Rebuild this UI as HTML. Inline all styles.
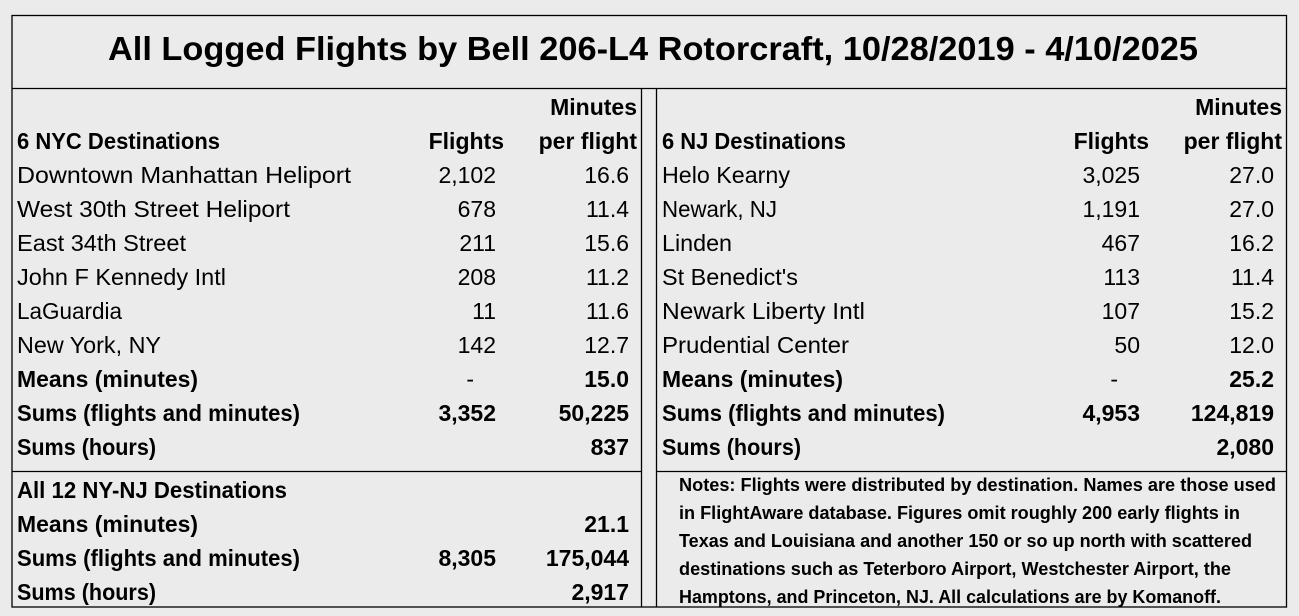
<!DOCTYPE html>
<html><head><meta charset="utf-8"><style>
html,body{margin:0;padding:0;background:#ebebeb;}
svg{display:block;}
text{font-family:"Liberation Sans",sans-serif;fill:#000;}
.b{font-weight:bold;}
</style></head><body>
<svg width="1299" height="616" viewBox="0 0 1299 616" xmlns="http://www.w3.org/2000/svg">
<rect x="0" y="0" width="1299" height="616" fill="#ebebeb"/>
<g stroke="#000" stroke-width="1.3" fill="none">
<rect x="12" y="15.5" width="1274.5" height="591.5"/>
<line x1="12" y1="88.5" x2="1286.5" y2="88.5"/>
<line x1="641.5" y1="88.5" x2="641.5" y2="607"/>
<line x1="656.5" y1="88.5" x2="656.5" y2="607"/>
<line x1="12" y1="471.5" x2="641.5" y2="471.5"/>
<line x1="656.5" y1="471.5" x2="1286.5" y2="471.5"/>
</g>
<text class="b" x="108" y="60" font-size="33" textLength="1090" lengthAdjust="spacingAndGlyphs">All Logged Flights by Bell 206-L4 Rotorcraft, 10/28/2019 - 4/10/2025</text>
<g font-size="23">
<text class="b" x="637" y="115" text-anchor="end">Minutes</text>
<text class="b" x="17" y="149" textLength="203" lengthAdjust="spacingAndGlyphs">6 NYC Destinations</text>
<text class="b" x="504" y="149" text-anchor="end">Flights</text>
<text class="b" x="637" y="149" text-anchor="end">per flight</text>
<text x="17" y="183" textLength="334" lengthAdjust="spacingAndGlyphs">Downtown Manhattan Heliport</text>
<text x="17" y="217" textLength="273" lengthAdjust="spacingAndGlyphs">West 30th Street Heliport</text>
<text x="17" y="251" textLength="169" lengthAdjust="spacingAndGlyphs">East 34th Street</text>
<text x="17" y="285" textLength="209" lengthAdjust="spacingAndGlyphs">John F Kennedy Intl</text>
<text x="17" y="319" textLength="105" lengthAdjust="spacingAndGlyphs">LaGuardia</text>
<text x="17" y="353" textLength="144" lengthAdjust="spacingAndGlyphs">New York, NY</text>
<text class="b" x="17" y="387" textLength="181" lengthAdjust="spacingAndGlyphs">Means (minutes)</text>
<text class="b" x="17" y="421" textLength="283" lengthAdjust="spacingAndGlyphs">Sums (flights and minutes)</text>
<text class="b" x="17" y="455" textLength="139" lengthAdjust="spacingAndGlyphs">Sums (hours)</text>
<g text-anchor="end">
<text x="496" y="183">2,102</text><text x="629" y="183">16.6</text>
<text x="496" y="217">678</text><text x="629" y="217">11.4</text>
<text x="496" y="251">211</text><text x="629" y="251">15.6</text>
<text x="496" y="285">208</text><text x="629" y="285">11.2</text>
<text x="496" y="319">11</text><text x="629" y="319">11.6</text>
<text x="496" y="353">142</text><text x="629" y="353">12.7</text>
<text x="474" y="387">-</text><text class="b" x="629" y="387">15.0</text>
<text class="b" x="496" y="421">3,352</text><text class="b" x="629" y="421">50,225</text>
<text class="b" x="629" y="455">837</text>
</g>
<text class="b" x="17" y="498" textLength="270" lengthAdjust="spacingAndGlyphs">All 12 NY-NJ Destinations</text>
<text class="b" x="17" y="532" textLength="181" lengthAdjust="spacingAndGlyphs">Means (minutes)</text>
<text class="b" x="17" y="566" textLength="283" lengthAdjust="spacingAndGlyphs">Sums (flights and minutes)</text>
<text class="b" x="17" y="600" textLength="139" lengthAdjust="spacingAndGlyphs">Sums (hours)</text>
<g text-anchor="end" class="b">
<text x="629" y="532">21.1</text>
<text x="496" y="566">8,305</text><text x="629" y="566">175,044</text>
<text x="629" y="600">2,917</text>
</g>
<text class="b" x="1282" y="115" text-anchor="end">Minutes</text>
<text class="b" x="662" y="149" textLength="184" lengthAdjust="spacingAndGlyphs">6 NJ Destinations</text>
<text class="b" x="1149" y="149" text-anchor="end">Flights</text>
<text class="b" x="1282" y="149" text-anchor="end">per flight</text>
<text x="662" y="183" textLength="128" lengthAdjust="spacingAndGlyphs">Helo Kearny</text>
<text x="662" y="217" textLength="115" lengthAdjust="spacingAndGlyphs">Newark, NJ</text>
<text x="662" y="251" textLength="70" lengthAdjust="spacingAndGlyphs">Linden</text>
<text x="662" y="285" textLength="136" lengthAdjust="spacingAndGlyphs">St Benedict's</text>
<text x="662" y="319" textLength="203" lengthAdjust="spacingAndGlyphs">Newark Liberty Intl</text>
<text x="662" y="353" textLength="187" lengthAdjust="spacingAndGlyphs">Prudential Center</text>
<text class="b" x="662" y="387" textLength="181" lengthAdjust="spacingAndGlyphs">Means (minutes)</text>
<text class="b" x="662" y="421" textLength="283" lengthAdjust="spacingAndGlyphs">Sums (flights and minutes)</text>
<text class="b" x="662" y="455" textLength="139" lengthAdjust="spacingAndGlyphs">Sums (hours)</text>
<g text-anchor="end">
<text x="1140" y="183">3,025</text><text x="1274" y="183">27.0</text>
<text x="1140" y="217">1,191</text><text x="1274" y="217">27.0</text>
<text x="1140" y="251">467</text><text x="1274" y="251">16.2</text>
<text x="1140" y="285">113</text><text x="1274" y="285">11.4</text>
<text x="1140" y="319">107</text><text x="1274" y="319">15.2</text>
<text x="1140" y="353">50</text><text x="1274" y="353">12.0</text>
<text x="1118" y="387">-</text><text class="b" x="1274" y="387">25.2</text>
<text class="b" x="1140" y="421">4,953</text><text class="b" x="1274" y="421">124,819</text>
<text class="b" x="1274" y="455">2,080</text>
</g>
</g>
<g font-size="18.5" class="b">
<text class="b" x="679" y="491" textLength="597" lengthAdjust="spacingAndGlyphs">Notes: Flights were distributed by destination. Names are those used</text>
<text class="b" x="679" y="519" textLength="561" lengthAdjust="spacingAndGlyphs">in FlightAware database. Figures omit roughly 200 early flights in</text>
<text class="b" x="679" y="547" textLength="573" lengthAdjust="spacingAndGlyphs">Texas and Louisiana and another 150 or so up north with scattered</text>
<text class="b" x="679" y="575" textLength="552" lengthAdjust="spacingAndGlyphs">destinations such as Teterboro Airport, Westchester Airport, the</text>
<text class="b" x="679" y="603" textLength="542" lengthAdjust="spacingAndGlyphs">Hamptons, and Princeton, NJ. All calculations are by Komanoff.</text>
</g>
</svg>
</body></html>
